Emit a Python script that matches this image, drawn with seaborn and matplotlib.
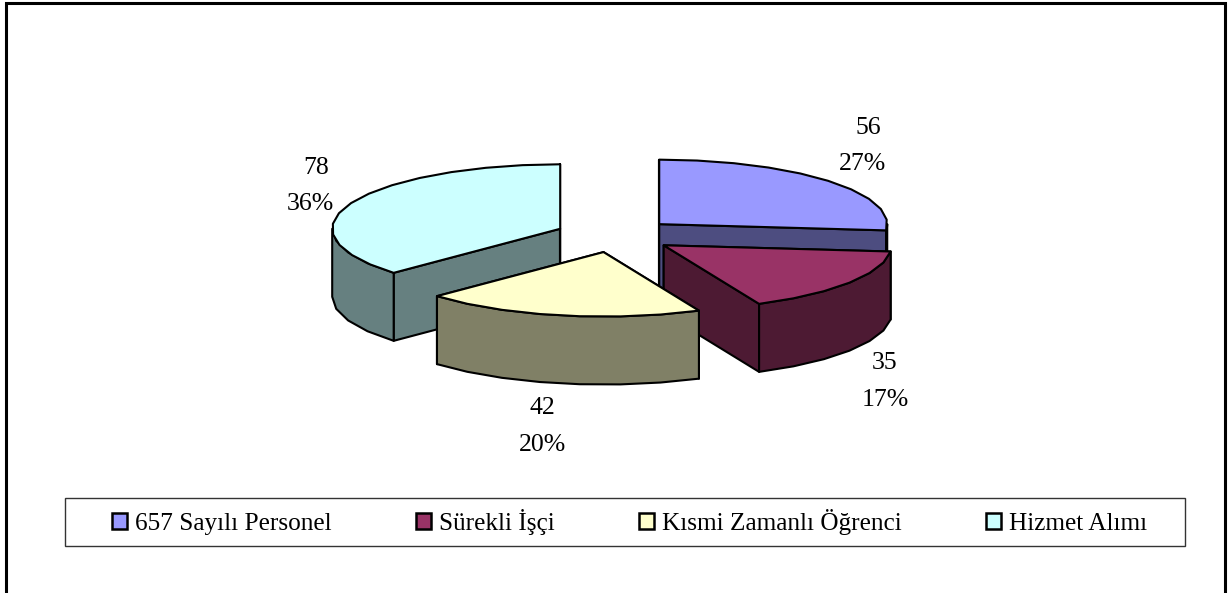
# Exploded 3D style pie chart of staff categories
from matplotlib.patches import Patch, Rectangle
import matplotlib.pyplot as plt
import numpy as np
import seaborn as sns

categories = ["657 Sayılı Personel", "Sürekli İşçi", "Kısmi Zamanlı Öğrenci", "Hizmet Alımı"]
values = [56, 35, 42, 78]
percents = ["27%", "17%", "20%", "36%"]
colors = ["#9999FF", "#993366", "#FFFFCC", "#CCFFFF"]

# layout of the fake 3D disc, in pixels
CENTER = (615, 235.5)
RADIUS_X, RADIUS_Y = 228, 64.5
DEPTH = 68
EXPLODE = 0.262
STEP = 9  # degrees per rim segment, keeps the rim a bit faceted like the original
LW = 1.5

# text anchors: (value label, percent label) per category
label_pos = [((868, 128), (862, 164)), ((885, 363), (885, 400)),
             ((542, 408), (542, 445)), ((316, 168), (310, 204))]


def rim(apex, start, stop):
    n = max(int((stop - start) / STEP), 2) + 1
    t = np.radians(np.linspace(start, stop, n))
    return np.column_stack([apex[0] + RADIUS_X * np.sin(t), apex[1] - RADIUS_Y * np.cos(t)])


def draw_slice(ax, start, stop, color):
    mid = np.radians((start + stop) / 2)
    apex = np.array([CENTER[0] + EXPLODE * RADIUS_X * np.sin(mid),
                     CENTER[1] - EXPLODE * RADIUS_Y * np.cos(mid)])
    arc = rim(apex, start, stop)
    down = np.array([0, DEPTH])
    side = tuple(c * 0.5 for c in sns.color_palette([color])[0])
    style = dict(ec="black", lw=LW, joinstyle="round")

    # radial walls, then the front part of the outer wall, then the top
    for end in (arc[0], arc[-1]):
        ax.fill(*np.array([apex, end, end + down, apex + down]).T, fc=side, **style)
    front_start, front_stop = max(start, 90), min(stop, 270)
    if front_stop > front_start:
        front = rim(apex, front_start, front_stop)
        ax.fill(*np.vstack([front, (front + down)[::-1]]).T, fc=side, **style)
    ax.fill(*np.vstack([apex, arc]).T, fc=color, **style)


sns.set_theme(style="white")
plt.rcParams["font.family"] = ["Liberation Serif", "DejaVu Serif"]

fig = plt.figure(figsize=(12.28, 5.93), dpi=100)
ax = fig.add_axes([0, 0, 1, 1])
ax.set_xlim(0, 1228)
ax.set_ylim(593, 0)
ax.axis("off")

# outer chart border, the bottom edge is cut off by the image
ax.plot([6, 6, 1225, 1225], [593, 3, 3, 593], color="black", lw=2.2, solid_joinstyle="miter")

edges = np.cumsum([0] + values) / sum(values) * 360
for i in [3, 0, 1, 2]:
    draw_slice(ax, edges[i], edges[i + 1], colors[i])

for i in range(len(values)):
    (vx, vy), (px, py) = label_pos[i]
    ax.text(vx, vy, str(values[i]), ha="center", va="center", fontsize=18.5, color="black")
    ax.text(px, py, percents[i], ha="center", va="center", fontsize=18.5, color="black")

ax.add_patch(Rectangle((64.5, 498), 1120.5, 48, fc="white", ec="#333333", lw=1))
handles = [Patch(fc=c, ec="black", lw=1.8) for c in colors]
leg = ax.legend(handles, categories, ncol=4, loc="center", bbox_to_anchor=(629.5, 522),
                bbox_transform=ax.transData, fontsize=18.2, frameon=False, labelcolor="black",
                borderaxespad=0, borderpad=0, columnspacing=3.35,
                handlelength=0.6, handleheight=0.6, handletextpad=0.3)

plt.savefig("out.png", dpi=100)
